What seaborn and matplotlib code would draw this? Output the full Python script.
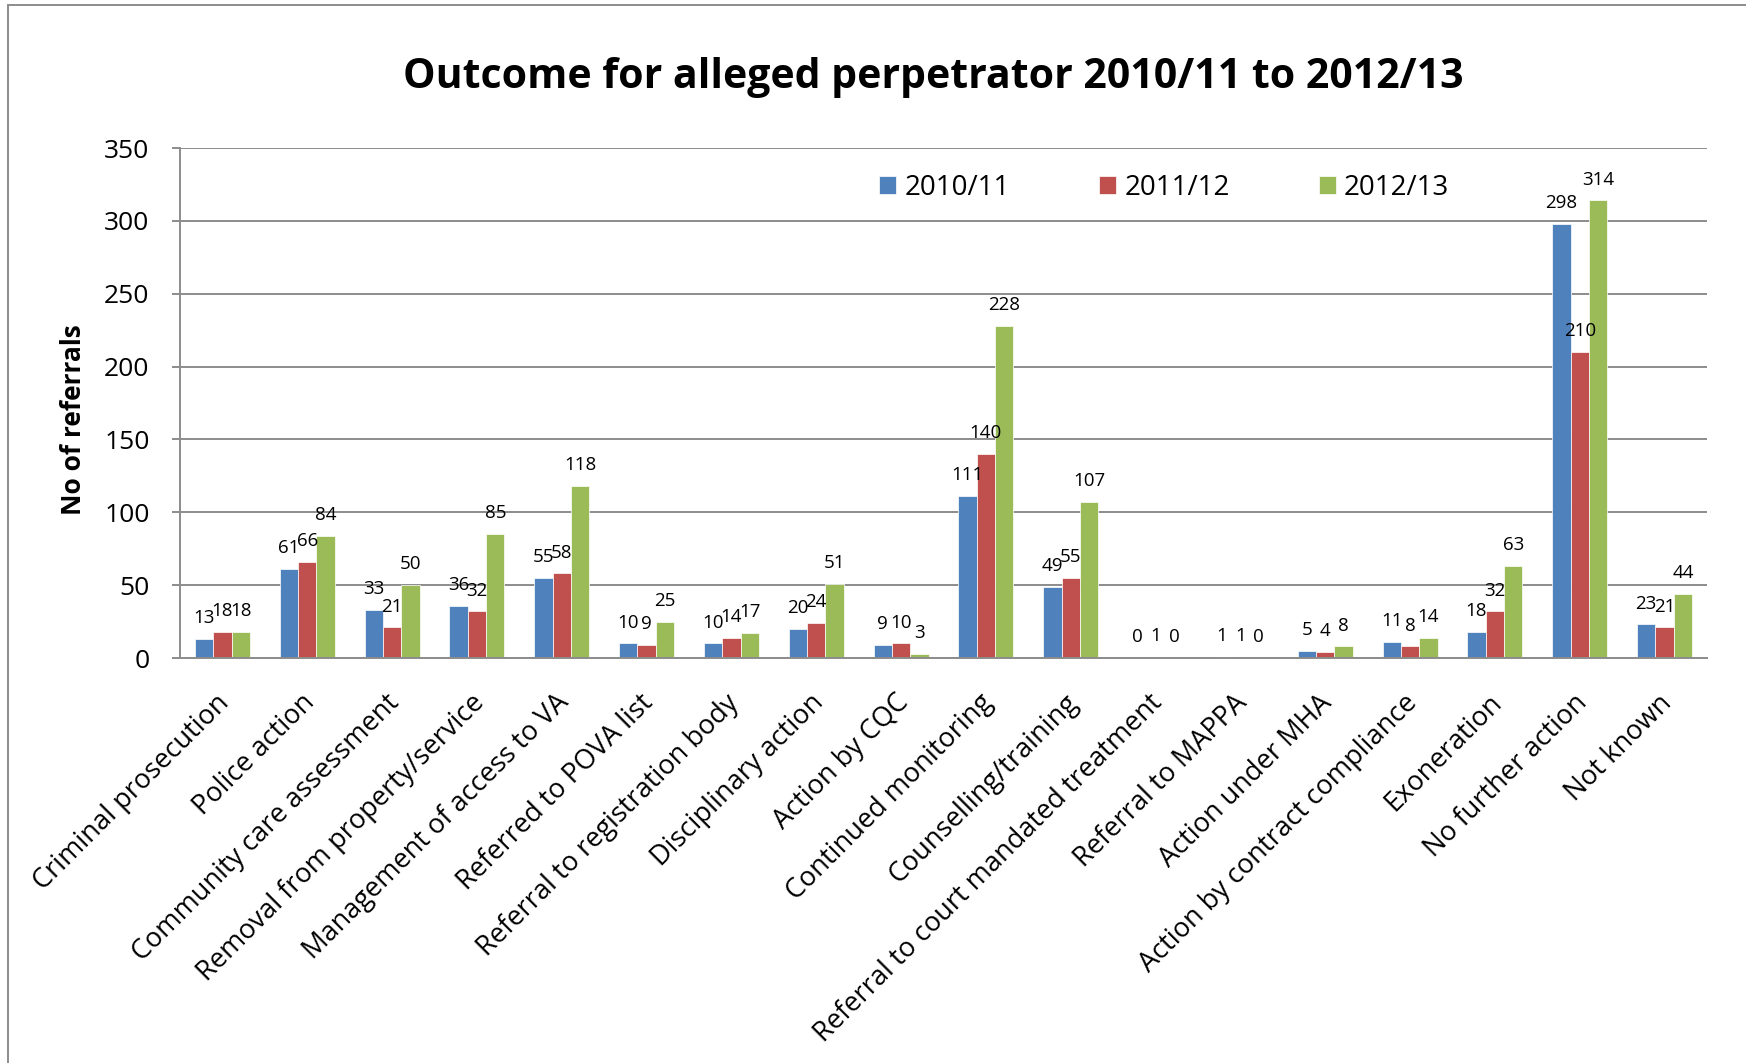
import matplotlib
matplotlib.use("Agg")
import matplotlib.pyplot as plt
from matplotlib.lines import Line2D
from matplotlib.transforms import ScaledTranslation
import pandas as pd
import seaborn as sns

categories = [
    "Criminal prosecution", "Police action", "Community care assessment",
    "Removal from property/service", "Management of access to VA",
    "Referred to POVA list", "Referral to registration body",
    "Disciplinary action", "Action by CQC", "Continued monitoring",
    "Counselling/training", "Referral to court mandated treatment",
    "Referral to MAPPA", "Action under MHA", "Action by contract compliance",
    "Exoneration", "No further action", "Not known",
]
years = ["2010/11", "2011/12", "2012/13"]
vals_2010_11 = [13, 61, 33, 36, 55, 10, 10, 20, 9, 111, 49, 0, 1, 5, 11, 18, 298, 23]
vals_2011_12 = [18, 66, 21, 32, 58, 9, 14, 24, 10, 140, 55, 1, 1, 4, 8, 32, 210, 21]
vals_2012_13 = [18, 84, 50, 85, 118, 25, 17, 51, 3, 228, 107, 0, 0, 8, 14, 63, 314, 44]
colors = ["#4F81BD", "#C0504D", "#9BBB59"]
yticks = [0, 50, 100, 150, 200, 250, 300, 350]

series = [vals_2010_11, vals_2011_12, vals_2012_13]
df = pd.DataFrame({
    "Outcome": categories * 3,
    "Year": [y for y in years for _ in categories],
    "Referrals": [v for s in series for v in s],
})

sns.set_style("white")
plt.rcParams["font.family"] = ["Open Sans", "DejaVu Sans"]
for key in ("text.color", "axes.labelcolor", "xtick.color", "ytick.color"):
    plt.rcParams[key] = "black"

W, H = 1746, 1063
fig = plt.figure(figsize=(W / 100, H / 100), dpi=100)
ax = fig.add_axes([180 / W, 1 - 658 / H, (1707 - 180) / W, (658 - 148) / H])

sns.barplot(data=df, x="Outcome", y="Referrals", hue="Year", order=categories,
            hue_order=years, palette=colors, width=0.65, dodge=True,
            saturation=1, edgecolor="white", linewidth=0.5, ax=ax, legend=True)

# value labels over every bar
for cont, vals in zip(ax.containers, series):
    ax.bar_label(cont, labels=[str(v) for v in vals], padding=8.5,
                 fontsize=13.5, color="black")

ax.set_ylim(0, 350)
ax.set_yticks(yticks)
ax.set_xlim(-0.5, len(categories) - 0.5)
ax.yaxis.grid(True, color="#8c8c8c", linewidth=1.4)
ax.set_axisbelow(True)
for side in ("top", "right"):
    ax.spines[side].set_visible(False)
for side in ("left", "bottom"):
    ax.spines[side].set_color("#8c8c8c")
    ax.spines[side].set_linewidth(1.4)

ax.tick_params(axis="y", labelsize=19, length=6, width=1.4, color="#8c8c8c",
               labelcolor="black", pad=16, left=True)
ax.tick_params(axis="x", labelsize=19.5, length=0, pad=33, labelcolor="black")
ax.set_xticks(range(len(categories)))
ax.set_xticklabels(categories)
shift = ScaledTranslation(8 / 100, 0, fig.dpi_scale_trans)
for lab in ax.get_xticklabels():
    lab.set_rotation(45)
    lab.set_ha("right")
    lab.set_va("baseline")
    lab.set_rotation_mode("anchor")
    lab.set_transform(lab.get_transform() + shift)

ax.set_xlabel("")
ax.set_ylabel("No of referrals", fontsize=19, fontweight="bold", color="black")
ax.yaxis.set_label_coords((87 - 180) / 1527, (658 - 420) / 510)

handles, labels = ax.get_legend_handles_labels()
ax.legend(handles, labels, loc="center left",
          bbox_to_anchor=(865 / W, 1 - 188 / H), bbox_transform=fig.transFigure,
          ncol=3, frameon=False, fontsize=20, borderpad=0,
          handlelength=0.62, handleheight=0.62, handletextpad=0.3,
          columnspacing=3.2)

fig.text(933 / W, 1 - 78 / H, "Outcome for alleged perpetrator 2010/11 to 2012/13",
         ha="center", va="center", fontsize=29.5, fontweight="bold", color="black")

# outer chart border (left and top edges)
fig.add_artist(Line2D([8 / W, 8 / W], [0, 1 - 5 / H], transform=fig.transFigure,
                      color="#8c8c8c", linewidth=1.4))
fig.add_artist(Line2D([8 / W, 1], [1 - 5 / H, 1 - 5 / H], transform=fig.transFigure,
                      color="#8c8c8c", linewidth=1.4))

fig.savefig("out.png", dpi=100)
